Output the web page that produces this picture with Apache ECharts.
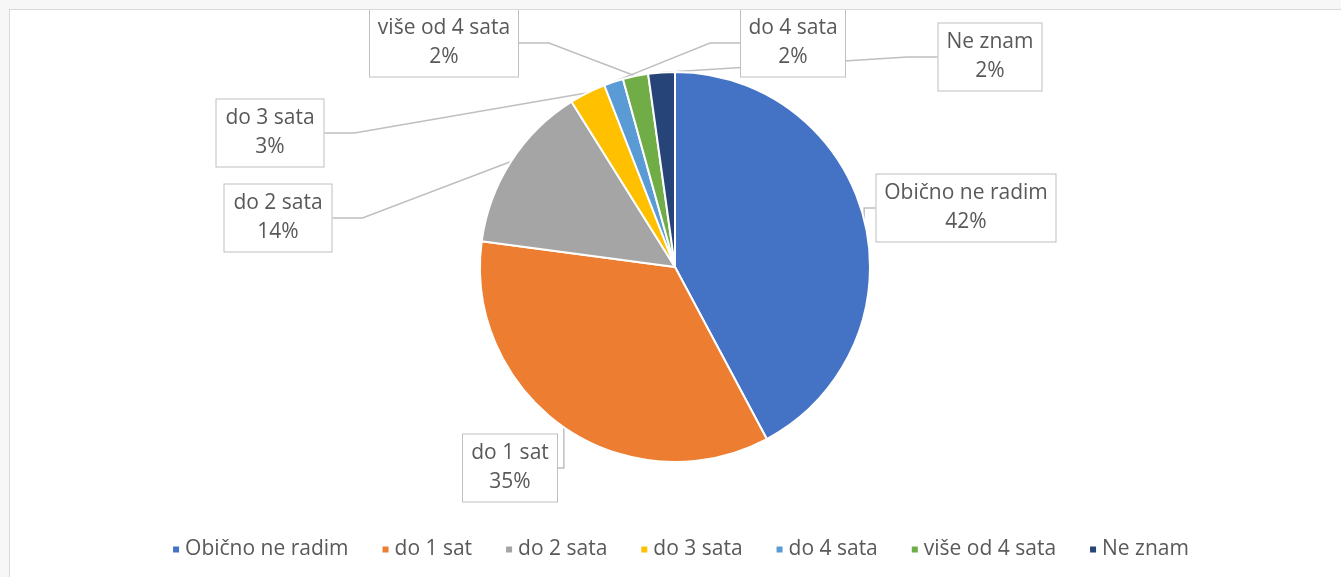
<!DOCTYPE html>
<html>
<head>
<meta charset="utf-8">
<script src="https://cdn.jsdelivr.net/npm/echarts@6/dist/echarts.min.js"></script>
<style>
    html, body { margin: 0; padding: 0; background: #f7f7f7; overflow: hidden; }
    #chart {
        position: absolute; left: 9px; top: 9px;
        width: 1340px; height: 580px;
        background: #fff; border: 1px solid #d9d9d9;
    }
</style>
</head>
<body>
<div id="chart"></div>
<script>
    // data
    var categories = ['Obično ne radim', 'do 1 sat', 'do 2 sata', 'do 3 sata', 'do 4 sata', 'više od 4 sata', 'Ne znam'];
    var shares = [42.2, 34.9, 14.0, 3.0, 1.6, 2.1, 2.2];
    var colors = ['#4472C4', '#ED7D31', '#A5A5A5', '#FFC000', '#5B9BD5', '#70AD47', '#264478'];

    // where each callout box sits (centre, in chart px) and its inner width
    var labelPos = [[956, 198], [500, 458], [268, 208], [260, 123], [783, 33], [434, 33], [980, 47]];
    var labelWidth = [165, 80, 93, 93, 90, 134, 89];

    var chart = echarts.init(document.getElementById('chart'));
    var option = {
        animation: false,
        color: colors,
        textStyle: { fontFamily: '"Open Sans", sans-serif' },
        legend: {
            bottom: 25,
            left: 'center',
            icon: 'rect',
            itemWidth: 8,
            itemHeight: 8,
            itemGap: 32,
            textStyle: { color: '#595959', fontSize: 21, fontFamily: '"Open Sans", sans-serif' },
            data: categories
        },
        series: [
            {
                type: 'pie',
                center: [665, 257],
                radius: 195,
                startAngle: 90,
                clockwise: true,
                itemStyle: { borderColor: '#fff', borderWidth: 2 },
                label: {
                    show: true,
                    color: '#595959',
                    fontSize: 21,
                    lineHeight: 29,
                    align: 'center',
                    overflow: 'none',
                    backgroundColor: '#fff',
                    borderColor: '#bfbfbf',
                    borderWidth: 1,
                    padding: [5, 7, 4, 7],
                    formatter: function (p) {
                        return p.name + '\n' + Math.round(p.percent) + '%';
                    }
                },
                labelLine: {
                    show: true,
                    lineStyle: { color: '#bfbfbf', width: 1.5 }
                },
                labelLayout: function (p) {
                    var pos = labelPos[p.dataIndex];
                    return { x: pos[0], y: pos[1], align: 'center', verticalAlign: 'middle' };
                },
                data: categories.map(function (name, i) {
                    return { name: name, value: shares[i], label: { width: labelWidth[i] } };
                })
            }
        ]
    };
    chart.setOption(option);
    window.addEventListener('resize', chart.resize);
</script>
</body>
</html>
